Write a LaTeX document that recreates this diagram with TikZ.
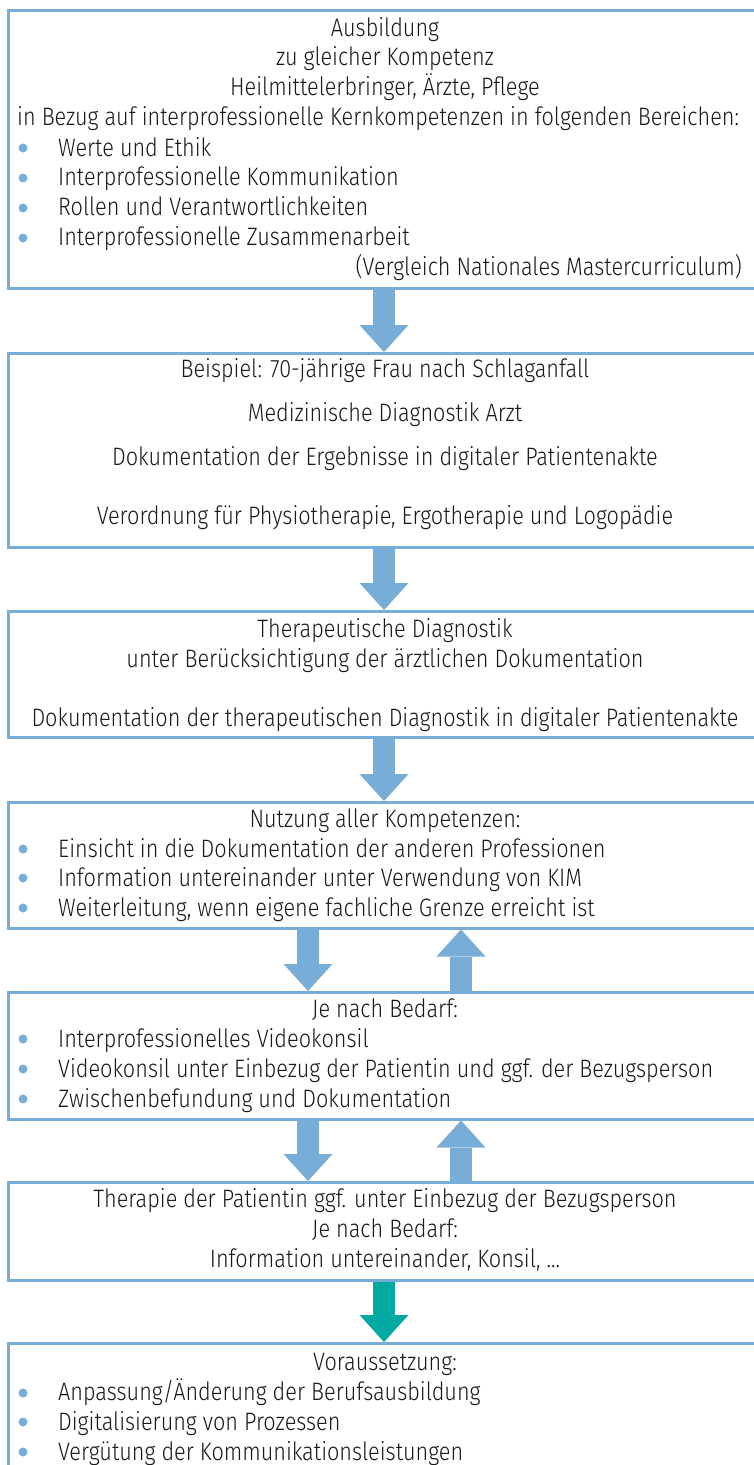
\documentclass[tikz,border=0pt]{standalone}
\usepackage{fontspec}
\setmainfont{Fira Sans}[UprightFont={* Light}, FakeStretch=0.86]
\usetikzlibrary{arrows.meta}
\definecolor{lblue}{RGB}{120,173,215}
\definecolor{tealc}{RGB}{0,170,160}
\definecolor{txt}{RGB}{25,25,25}
\begin{document}
\begin{tikzpicture}[x=1pt,y=-1pt,
  box/.style={draw=lblue, line width=2.5pt, anchor=north west, minimum width=756pt, inner sep=0pt},
  ctext/.style={anchor=base, inner sep=0pt, text=txt, font=\fontsize{25.2}{30}\selectfont},
  ltext/.style={ctext, anchor=base west},
  rtext/.style={ctext, anchor=base east},
  dot/.style={circle, fill=lblue, minimum size=9pt, inner sep=0pt},
  bigarrow/.style={draw=lblue, line width=22pt, -{Triangle[width=49pt,length=27pt,line width=0pt]}},
]
\useasboundingbox (0,0) rectangle (754,1465);
\clip (0,0) rectangle (754,1465);
\fill[white] (0,0) rectangle (754,1465);

% boxes
\node[box, minimum height=278pt] (b1) at (7,9) {};
\node[box, minimum height=194pt] (b2) at (7,352) {};
\node[box, minimum height=126pt] (b3) at (7,610) {};
\node[box, minimum height=126pt] (b4) at (7,801) {};
\node[box, minimum height=127pt] (b5) at (7,991) {};
\node[box, minimum height=98pt] (b6) at (7,1181) {};
\node[box, minimum height=200pt] (b7) at (7,1342) {};

% arrow columns
\coordinate (mx) at (384,0);
\coordinate (lx) at (308,0);
\coordinate (rx) at (461,0);

\draw[bigarrow] (b1.south -| mx) -- (b2.north -| mx);
\draw[bigarrow] (b2.south -| mx) -- (b3.north -| mx);
\draw[bigarrow] (b3.south -| mx) -- (b4.north -| mx);
\draw[bigarrow] (b4.south -| lx) -- (b5.north -| lx);
\draw[bigarrow] (b5.north -| rx) -- (b4.south -| rx);
\draw[bigarrow] (b5.south -| lx) -- (b6.north -| lx);
\draw[bigarrow] (b6.north -| rx) -- (b5.south -| rx);
\draw[bigarrow, draw=tealc] (b6.south -| mx) -- (b7.north -| mx);

% box 1
\node[ctext] (t11) at (385,36) {Ausbildung};
\node[ctext] (t12) at (385,65) {zu gleicher Kompetenz};
\node[ctext] (t13) at (385,95) {Heilmittelerbringer, Ärzte, Pflege};
\node[ltext] (t14) at (17,125) {in Bezug auf interprofessionelle Kernkompetenzen in folgenden Bereichen:};
\node[dot] (d11) at (23,148) {};
\node[ltext] (t15) at (58,156) {Werte und Ethik};
\node[dot] (d12) at (23,178) {};
\node[ltext] (t16) at (58,185) {Interprofessionelle Kommunikation};
\node[dot] (d13) at (23,208) {};
\node[ltext] (t17) at (58,215) {Rollen und Verantwortlichkeiten};
\node[dot] (d14) at (23,238) {};
\node[ltext] (t18) at (58,245) {Interprofessionelle Zusammenarbeit};
\node[rtext] (t19) at (742,275) {(Vergleich Nationales Mastercurriculum)};

% box 2
\node[ctext] (t21) at (385,377) {Beispiel: 70-jährige Frau nach Schlaganfall};
\node[ctext] (t22) at (385,421) {Medizinische Diagnostik Arzt};
\node[ctext] (t23) at (385,465) {Dokumentation der Ergebnisse in digitaler Patientenakte};
\node[ctext] (t24) at (385,524) {Verordnung für Physiotherapie, Ergotherapie und Logopädie};

% box 3
\node[ctext] (t31) at (385,637) {Therapeutische Diagnostik};
\node[ctext] (t32) at (385,667) {unter Berücksichtigung der ärztlichen Dokumentation};
\node[ctext] (t33) at (385,726) {Dokumentation der therapeutischen Diagnostik in digitaler Patientenakte};

% box 4
\node[ctext] (t41) at (385,827) {Nutzung aller Kompetenzen:};
\node[dot] (d41) at (23,849) {};
\node[ltext] (t42) at (58,857) {Einsicht in die Dokumentation der anderen Professionen};
\node[dot] (d42) at (23,878) {};
\node[ltext] (t43) at (58,886) {Information untereinander unter Verwendung von KIM};
\node[dot] (d43) at (23,908) {};
\node[ltext] (t44) at (58,916) {Weiterleitung, wenn eigene fachliche Grenze erreicht ist};

% box 5
\node[ctext] (t51) at (385,1017) {Je nach Bedarf:};
\node[dot] (d51) at (23,1039) {};
\node[ltext] (t52) at (58,1047) {Interprofessionelles Videokonsil};
\node[dot] (d52) at (23,1069) {};
\node[ltext] (t53) at (58,1077) {Videokonsil unter Einbezug der Patientin und ggf. der Bezugsperson};
\node[dot] (d53) at (23,1099) {};
\node[ltext] (t54) at (58,1107) {Zwischenbefundung und Dokumentation};

% box 6
\node[ctext] (t61) at (385,1207) {Therapie der Patientin ggf. unter Einbezug der Bezugsperson};
\node[ctext] (t62) at (385,1237) {Je nach Bedarf:};
\node[ctext] (t63) at (385,1267) {Information untereinander, Konsil, ...};

% box 7
\node[ctext] (t71) at (385,1370) {Voraussetzung:};
\node[dot] (d71) at (23,1393) {};
\node[ltext] (t72) at (58,1400) {Anpassung/Änderung der Berufsausbildung};
\node[dot] (d72) at (23,1422) {};
\node[ltext] (t73) at (58,1430) {Digitalisierung von Prozessen};
\node[dot] (d73) at (23,1452) {};
\node[ltext] (t74) at (58,1460) {Vergütung der Kommunikationsleistungen};
\end{tikzpicture}
\end{document}
